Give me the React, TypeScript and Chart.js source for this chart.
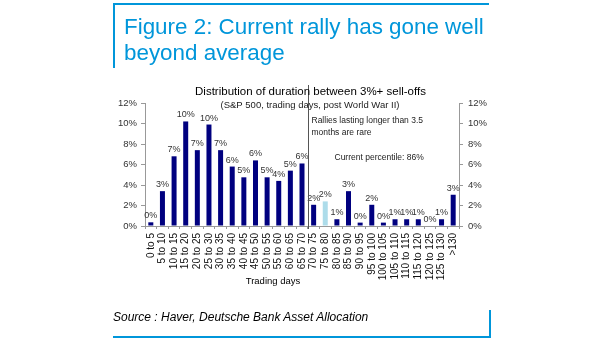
import React, { useEffect, useRef } from "react";
import Chart from "chart.js/auto";

const categories = [
  "0 to 5", "5 to 10", "10 to 15", "15 to 20", "20 to 25", "25 to 30", "30 to 35",
  "35 to 40", "40 to 45", "45 to 50", "50 to 55", "55 to 60", "60 to 65", "65 to 70",
  "70 to 75", "75 to 80", "80 to 85", "85 to 90", "90 to 95", "95 to 100", "100 to 105",
  "105 to 110", "110 to 115", "115 to 120", "120 to 125", "125 to 130", ">130",
];
const shares = [
  0.36, 3.4, 6.8, 10.2, 7.4, 9.9, 7.4, 5.8, 4.75, 6.4, 4.75, 4.4, 5.4, 6.1,
  2.07, 2.4, 0.66, 3.4, 0.33, 2.07, 0.33, 0.66, 0.66, 0.66, 0, 0.66, 3.05,
];
const currentIndex = 15;
const yTicks = [0, 2, 4, 6, 8, 10, 12];

const titleText = "Distribution of duration between 3%+ sell-offs";
const subtitleText = "(S&P 500, trading days, post World War II)";
const noteLines = ["Rallies lasting longer than 3.5", "months are rare"];
const percentileText = "Current percentile: 86%";
const xTitle = "Trading days";

const FONT = '"Liberation Sans", Arial, sans-serif';
const BLUE = "#0096DA";
const NAVY = "#00007F";
const LIGHT = "#ADDCEA";

const textPlugin = {
  id: "textPlugin",
  afterDraw(chart: any) {
    const ctx = chart.ctx;
    const x = chart.scales.x;
    const y = chart.scales.y;
    const area = chart.chartArea;
    ctx.save();
    // data labels
    ctx.fillStyle = "#333";
    ctx.font = `9px ${FONT}`;
    ctx.textAlign = "center";
    ctx.textBaseline = "alphabetic";
    const meta = chart.getDatasetMeta(0);
    meta.data.forEach((bar: any, i: number) => {
      const v = shares[i];
      ctx.fillText(Math.round(v) + "%", bar.x, y.getPixelForValue(v) - 4);
    });
    // vertical divider
    const vx = Math.round((x.getPixelForValue(13) + x.getPixelForValue(14)) / 2) + 0.5;
    ctx.strokeStyle = "#555";
    ctx.lineWidth = 1;
    ctx.beginPath();
    ctx.moveTo(vx, 85);
    ctx.lineTo(vx, area.bottom + 3);
    ctx.stroke();
    // titles
    ctx.fillStyle = "#000";
    ctx.textAlign = "center";
    ctx.textBaseline = "middle";
    ctx.font = `11.5px ${FONT}`;
    ctx.fillText(titleText, 310.5, 92);
    ctx.fillStyle = "#222";
    ctx.font = `9.5px ${FONT}`;
    ctx.fillText(subtitleText, 310, 105.5);
    // annotations
    ctx.textAlign = "left";
    ctx.font = `8.5px ${FONT}`;
    ctx.fillText(noteLines[0], vx + 3, 121);
    ctx.fillText(noteLines[1], vx + 3, 133);
    ctx.fillText(percentileText, vx + 26, 158);
    // x title
    ctx.textAlign = "center";
    ctx.fillStyle = "#000";
    ctx.font = `9.5px ${FONT}`;
    ctx.fillText(xTitle, 273, 281.5);
    ctx.restore();
  },
};

function yAxis(position: "left" | "right", width: number) {
  return {
    position,
    min: 0,
    max: 12,
    afterFit: (s: any) => {
      s.width = width;
    },
    afterBuildTicks: (s: any) => {
      s.ticks = yTicks.map((v) => ({ value: v }));
    },
    grid: { drawOnChartArea: false, tickLength: 4, color: "#999" },
    border: { color: "#999" },
    ticks: {
      padding: position === "left" ? 4 : 5,
      color: "#333",
      font: { family: FONT, size: 9.5 },
      callback: (v: any) => v + "%",
    },
  };
}

export default function App() {
  const ref = useRef<HTMLCanvasElement>(null);
  useEffect(() => {
    if (!ref.current) return;
    const chart = new Chart(ref.current, {
      type: "bar",
      data: {
        labels: categories,
        datasets: [
          {
            data: shares,
            yAxisID: "y",
            backgroundColor: shares.map((_, i) => (i === currentIndex ? LIGHT : NAVY)),
            barPercentage: 0.43,
            categoryPercentage: 1,
          },
        ],
      },
      options: {
        responsive: false,
        maintainAspectRatio: false,
        devicePixelRatio: 1,
        animation: false,
        layout: { padding: { left: 0, right: 0, top: 103, bottom: 0 } },
        plugins: { legend: { display: false }, tooltip: { enabled: false }, title: { display: false } },
        scales: {
          x: {
            afterFit: (s: any) => {
              s.height = 115;
            },
            grid: { drawOnChartArea: false, tickLength: 3, color: "#999", offset: true },
            border: { color: "#999" },
            ticks: {
              autoSkip: false,
              minRotation: 90,
              maxRotation: 90,
              padding: 4,
              color: "#111",
              font: { family: FONT, size: 10 },
            },
          },
          y: yAxis("left", 145),
          y2: yAxis("right", 146),
        } as any,
      },
      plugins: [textPlugin],
    });
    return () => chart.destroy();
  }, []);

  return (
    <div
      style={{
        position: "fixed",
        left: 0,
        top: 0,
        width: 605,
        height: 341,
        background: "#fff",
        overflow: "hidden",
        fontFamily: FONT,
      }}
    >
      <canvas ref={ref} width={605} height={341} style={{ position: "absolute", left: 0, top: 0, display: "block" }} />
      <div style={{ position: "absolute", left: 113, top: 3, width: 376, height: 2, background: BLUE }} />
      <div style={{ position: "absolute", left: 113, top: 4, width: 2, height: 64, background: BLUE }} />
      <div
        style={{
          position: "absolute",
          left: 124,
          top: 14.2,
          width: 380,
          fontSize: 22.4,
          lineHeight: "26px",
          color: BLUE,
          whiteSpace: "nowrap",
        }}
      >
        Figure 2: Current rally has gone well
        <br />
        beyond average
      </div>
      <div
        style={{
          position: "absolute",
          left: 113,
          top: 310,
          fontSize: 12,
          lineHeight: "14px",
          fontStyle: "italic",
          color: "#000",
          whiteSpace: "nowrap",
        }}
      >
        Source : Haver, Deutsche Bank Asset Allocation
      </div>
      <div style={{ position: "absolute", left: 113, top: 336, width: 378, height: 2, background: BLUE }} />
      <div style={{ position: "absolute", left: 489, top: 310, width: 2, height: 28, background: BLUE }} />
    </div>
  );
}
